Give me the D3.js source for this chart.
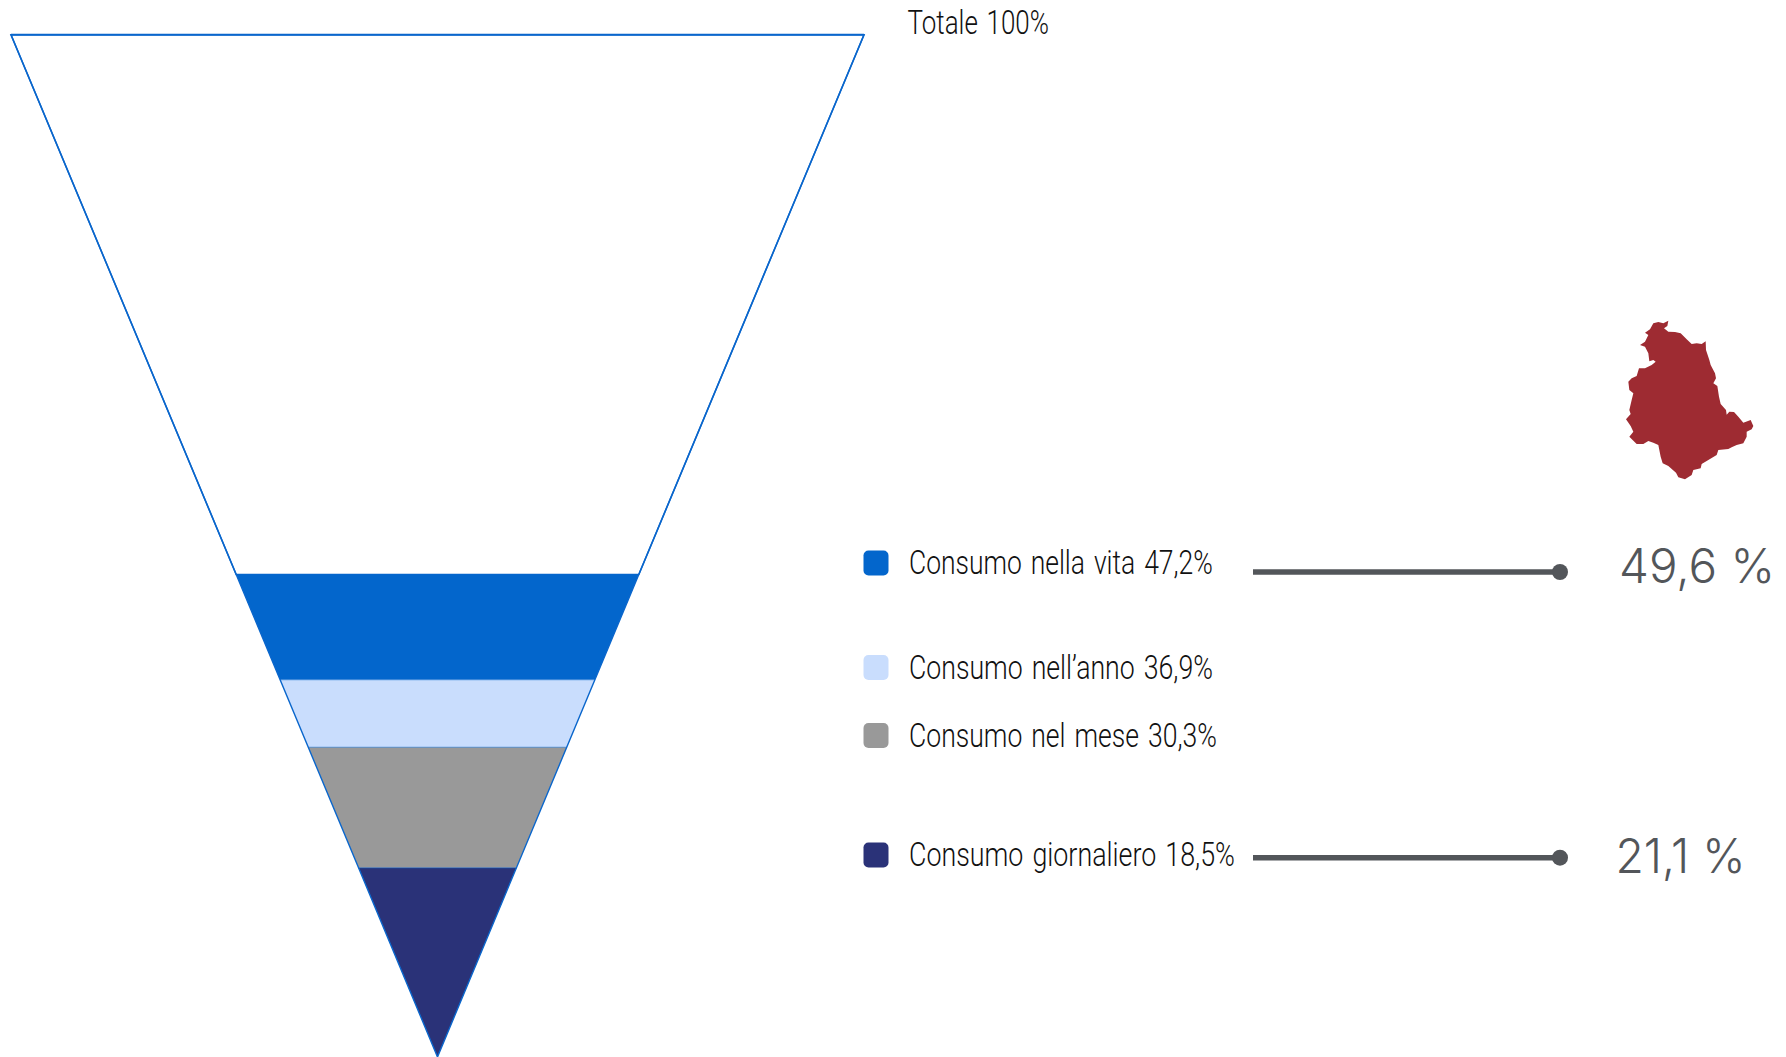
<!DOCTYPE html>
<html><head><meta charset="utf-8">
<script src="https://cdn.jsdelivr.net/npm/d3@7/dist/d3.min.js"></script>
<style>html,body{margin:0;padding:0;background:#fff}svg{display:block}</style>
</head><body><svg id="c" width="1786" height="1057"></svg>
<script>
const categories = ["Totale","Consumo nella vita","Consumo nell’anno","Consumo nel mese","Consumo giornaliero"];
const shares = [100,47.2,36.9,30.3,18.5];
const shareLabels = ["100%","47,2%","36,9%","30,3%","18,5%"];
const fills = ["#ffffff","#0366cc","#c9ddfd","#999999","#2a3278"];
const legendBaselines = [33.5,574,678.5,746.5,866];
const legendRightEdges = [1049,1213,1213,1217,1235];
const calloutValues = ["49,6 %","21,1 %"];
const calloutY = [572,857.7];
const regionOutline = [[190,70],[205,66],[220,70],[235,62],[232,78],[222,85],[235,95],[255,96],[272,100],[290,118],[305,132],[320,130],[335,132],[347,124],[348,150],[358,180],[362,195],[375,220],[378,235],[370,250],[382,258],[387,290],[392,312],[408,330],[410,344],[418,335],[432,336],[445,350],[460,368],[482,360],[490,378],[485,388],[470,395],[470,410],[460,430],[440,435],[425,442],[415,447],[385,450],[380,465],[355,480],[335,492],[332,505],[310,510],[305,525],[285,538],[265,532],[258,518],[235,498],[218,490],[212,470],[205,435],[190,428],[175,423],[160,432],[140,432],[118,410],[130,395],[122,378],[108,358],[122,342],[118,330],[125,300],[130,280],[118,270],[115,245],[125,235],[140,228],[147,205],[165,205],[185,195],[197,185],[190,180],[178,184],[175,160],[165,140],[150,135],[165,125],[175,105],[165,98],[180,88]];

const svg = d3.select("#c");
const y = d3.scaleLinear().domain([0,100]).range([1057,34.7]);
const half = d3.scaleLinear().domain([0,100]).range([0,426.5]);
const cx = 437.5;
const OUT = "#0a66cc";
const bands = shares.map((v,i)=>({v,next:i<shares.length-1?shares[i+1]:0,fill:fills[i]}));
const line = d3.line();
svg.append("g").selectAll("path").data(bands).join("path")
  .attr("d",d=>line([[cx-half(d.v),y(d.v)],[cx+half(d.v),y(d.v)],[cx+half(d.next),y(d.next)],[cx-half(d.next),y(d.next)]])+"Z")
  .attr("fill",d=>d.fill).attr("stroke",(d,i)=>i==0?OUT:"none").attr("stroke-width",1.6);
svg.append("path").attr("d",line([[cx-half(100),y(100)],[cx,y(0)],[cx+half(100),y(100)]])).attr("fill","none").attr("stroke",OUT).attr("stroke-width",1.4);
svg.append("path").attr("d",line([[cx-half(100),y(100)],[cx+half(100),y(100)]])).attr("stroke",OUT).attr("stroke-width",2);
svg.append("g").selectAll("line").data(shares.slice(2)).join("line")
  .attr("x1",v=>cx-half(v)).attr("x2",v=>cx+half(v)).attr("y1",v=>y(v)).attr("y2",v=>y(v))
  .attr("stroke",OUT).attr("stroke-width",1).attr("stroke-opacity",.55);

const lg = svg.append("g");
categories.forEach((c,i)=>{
  const b = legendBaselines[i], x0 = i==0?907.5:909;
  if(i>0) lg.append("rect").attr("x",863.5).attr("y",b-23.5).attr("width",25).attr("height",25).attr("rx",5).attr("fill",fills[i]);
  const t = lg.append("text").attr("transform",`translate(${x0},${b})`)
    .attr("font-family","Roboto,'Liberation Sans'").attr("font-weight",300).attr("font-size",32.5).attr("word-spacing",3).attr("fill","#111")
    .text(c+" "+shareLabels[i]);
  const sx = (legendRightEdges[i]-x0)/t.node().getComputedTextLength();
  t.attr("transform",`translate(${x0},${b}) scale(${sx},1)`);
});

const gc = svg.append("g");
calloutValues.forEach((s,i)=>{
  const yy = calloutY[i];
  gc.append("line").attr("x1",1253).attr("x2",1560).attr("y1",yy).attr("y2",yy).attr("stroke","#53565a").attr("stroke-width",5.5);
  gc.append("circle").attr("cx",1560).attr("cy",yy).attr("r",8).attr("fill","#53565a");
  gc.append("text").attr("x",i==0?1619:1615.5).attr("y",i==0?583:873)
    .attr("textLength",i==0?156:130).attr("lengthAdjust","spacingAndGlyphs")
    .attr("font-family","Inter,'Open Sans',sans-serif").attr("font-weight",300).attr("font-size",48).attr("fill","#53565a").text(s);
});

const mx = d3.scaleLinear().domain([0,190]).range([1590,1780]);
const my = d3.scaleLinear().domain([0,190]).range([300,490]);
svg.append("path").attr("d",d3.line().x(d=>mx(d[0]/3)).y(d=>my(d[1]/3))(regionOutline)+"Z").attr("fill","#9e2b32");
</script></body></html>
